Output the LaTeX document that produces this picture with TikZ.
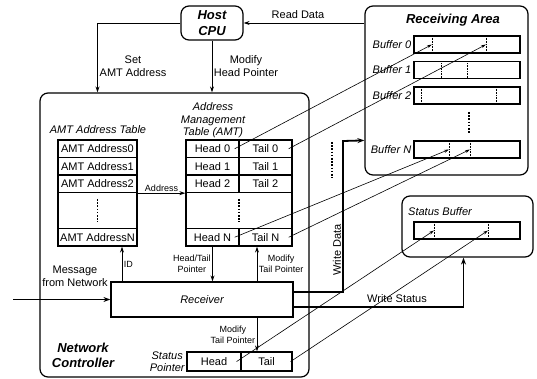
\documentclass[tikz,border=0pt]{standalone}
\usepackage{fontspec}
\setmainfont{Liberation Sans}
\usetikzlibrary{arrows.meta}

\begin{document}
\begin{tikzpicture}[x=1pt,y=-1pt,
        every node/.style={font=\fontsize{11}{12.5}\selectfont, align=center},
        small/.style={font=\fontsize{9}{11}\selectfont, inner sep=1.5pt},
        title/.style={font=\fontsize{13}{15.5}\selectfont\bfseries\itshape},
        label/.style={font=\fontsize{11}{12.5}\selectfont\itshape},
        frame/.style={draw, line width=1.2pt, rounded corners=8pt},
        cell/.style={draw, line width=1.3pt, minimum height=17.5pt, inner sep=0pt},
        buf/.style={draw, line width=1.2pt, minimum width=106pt, minimum height=17pt, inner sep=0pt},
        arrow/.style={line width=0.9pt, -{Stealth[length=6pt,width=4pt]}},
        ptr/.style={line width=0.6pt, -{Stealth[length=5pt,width=3pt]}},
        bus/.style={line width=1.8pt, -{Stealth[length=7pt,width=5pt]}},
        gap/.style={line width=1.6pt, dash pattern=on 1.6pt off 1.6pt},
        tick/.style={line width=0.6pt, densely dotted}]
    \useasboundingbox (0,0) rectangle (537,379);

    % frames
    \node [frame, title, minimum width=62pt, minimum height=34pt, inner sep=0pt] (cpu) at (212,23) {Host\\CPU};
    \node [frame, minimum width=269pt, minimum height=284pt] (nc) at (174.5,235) {};
    \node [frame, minimum width=163pt, minimum height=169pt] (area) at (446.5,90.5) {};
    \node [frame, minimum width=131pt, minimum height=61pt] (sbox) at (467.5,226.5) {};
    \path (453,20) node [title] (areatitle) {Receiving Area};
    \path (440,212) node [label] (sboxtitle) {Status Buffer};
    \path (83,355.5) node [title] (nctitle) {Network\\Controller};

    % buffers in the receiving area
    \foreach \n/\y/\a/\b in {0/44.5/432/486, 1/70/441/467, 2/95.5/421/496, N/149.5/449/470} {
        \node [buf] (buf\n) at (467,\y) {};
        \node [label, left, inner sep=2pt] (buf\n-name) at (buf\n.west) {Buffer \n};
        \draw [tick] (\a,\y-8.5) -- (\a,\y+8.5);
        \draw [tick] (\b,\y-8.5) -- (\b,\y+8.5);
        \coordinate (buf\n-h) at (\a,\y);
        \coordinate (buf\n-t) at (\b,\y);
    }
    \draw [gap] (469,112) -- (469,133);

    % status buffer
    \node [buf] (sbuf) at (467,230.5) {};
    \draw [tick] (434,222) -- (434,239);
    \draw [tick] (488,222) -- (488,239);
    \coordinate (sbuf-h) at (434,230.5);
    \coordinate (sbuf-t) at (488,230.5);

    % AMT address table
    \path (98,130) node [label] (adrtitle) {AMT Address Table};
    \foreach \i/\y in {0/148.75, 1/166.25, 2/183.75} {
        \node [cell, minimum width=79pt] (adr\i) at (97.5,\y) {AMT Address\i};
    }
    \node [cell, minimum width=79pt, minimum height=36pt] (adrdots) at (97.5,210.5) {};
    \node [cell, minimum width=79pt] (adrN) at (97.5,237.25) {AMT AddressN};
    \draw [gap] ([yshift=11.5pt]adrdots.center) -- ([yshift=-11.5pt]adrdots.center);

    % address management table
    \path (213,120.5) node [label] (amttitle) {Address\\Management\\Table (AMT)};
    \foreach \i/\y in {0/148.75, 1/166.25, 2/183.75} {
        \node [cell, minimum width=53pt] (h\i) at (212.5,\y) {Head \i};
        \node [cell, minimum width=53pt] (t\i) at (265.5,\y) {Tail \i};
    }
    \node [cell, minimum width=106pt, minimum height=36pt] (amtdots) at (239,210.5) {};
    \node [cell, minimum width=53pt] (hN) at (212.5,237.25) {Head N};
    \node [cell, minimum width=53pt] (tN) at (265.5,237.25) {Tail N};
    \draw [gap] ([yshift=11.5pt]amtdots.center) -- ([yshift=-11.5pt]amtdots.center);
    \draw [gap] (332,142) -- (332,178);

    % receiver and status pointer
    \node [draw, line width=1.2pt, label, minimum width=182pt, minimum height=35pt] (rcv) at (202,299.5) {Receiver};
    \node [cell, minimum width=54pt, minimum height=19pt] (shead) at (214,361.5) {Head};
    \node [cell, minimum width=51pt, minimum height=19pt] (stail) at (266.5,361.5) {Tail};
    \node [label, left, inner sep=1.5pt] (stitle) at (shead.west) {Status\\Pointer};

    % host side
    \draw [arrow] (cpu.west) -| (adr0 |- nc.north);
    \path (133,66) node (setlbl) {Set\\AMT Address};
    \draw [arrow] (cpu.south) -- (cpu.south |- nc.north);
    \path (246,66) node (modlbl) {Modify\\Head Pointer};
    \draw [arrow] (area.west |- cpu.east) -- (cpu.east);
    \path (298,15) node (readlbl) {Read Data};

    % inside the controller
    \draw [arrow] (adr2.south east) -- (h2.south west) node [midway, above, small, inner sep=1pt] (adrlbl) {Address};
    \coordinate (id) at (122,0);
    \draw [arrow] (id |- rcv.north) -- (id |- adrN.south) node [midway, right, small] (idlbl) {ID};
    \draw [arrow] (hN.south) -- (hN.south |- rcv.north) node [midway, left, small] (htlbl) {Head/Tail\\Pointer};
    \coordinate (mt) at (257,0);
    \draw [arrow] (mt |- rcv.north) -- (mt |- tN.south) node [midway, right, small] (mtlbl) {Modify\\Tail Pointer};
    \draw [arrow] (mt |- rcv.south) -- (mt |- stail.north) node [midway, left, small] (mslbl) {Modify\\Tail Pointer};
    \coordinate (msg) at (13,299.5);
    \draw [bus] (msg) -- (rcv.west);
    \path (75,276.5) node (msglbl) {Message\\from Network};

    % data paths
    \draw [bus] ([yshift=7.5pt]rcv.east) -| (343,141) -- (area.west |- bufN.north);
    \path (337,250) node [rotate=90] (wdlbl) {Write Data};
    \draw [bus] ([yshift=-7.5pt]rcv.east) -| ([xshift=-4pt]sbox.south);
    \path (397,299) node (wslbl) {Write Status};

    % pointers into the buffers
    \draw [ptr] ([xshift=-5pt]h0.east) -- (buf0-h);
    \draw [ptr] ([xshift=-4pt]t0.east) -- (buf0-t);
    \draw [ptr] ([xshift=-5pt]hN.east) -- (bufN-h);
    \draw [ptr] ([xshift=-4pt]tN.east) -- (bufN-t);
    \draw [ptr] ([xshift=-5pt]shead.east) -- (sbuf-h);
    \draw [ptr] ([xshift=-2pt]stail.east) -- (sbuf-t);
\end{tikzpicture}
\end{document}
